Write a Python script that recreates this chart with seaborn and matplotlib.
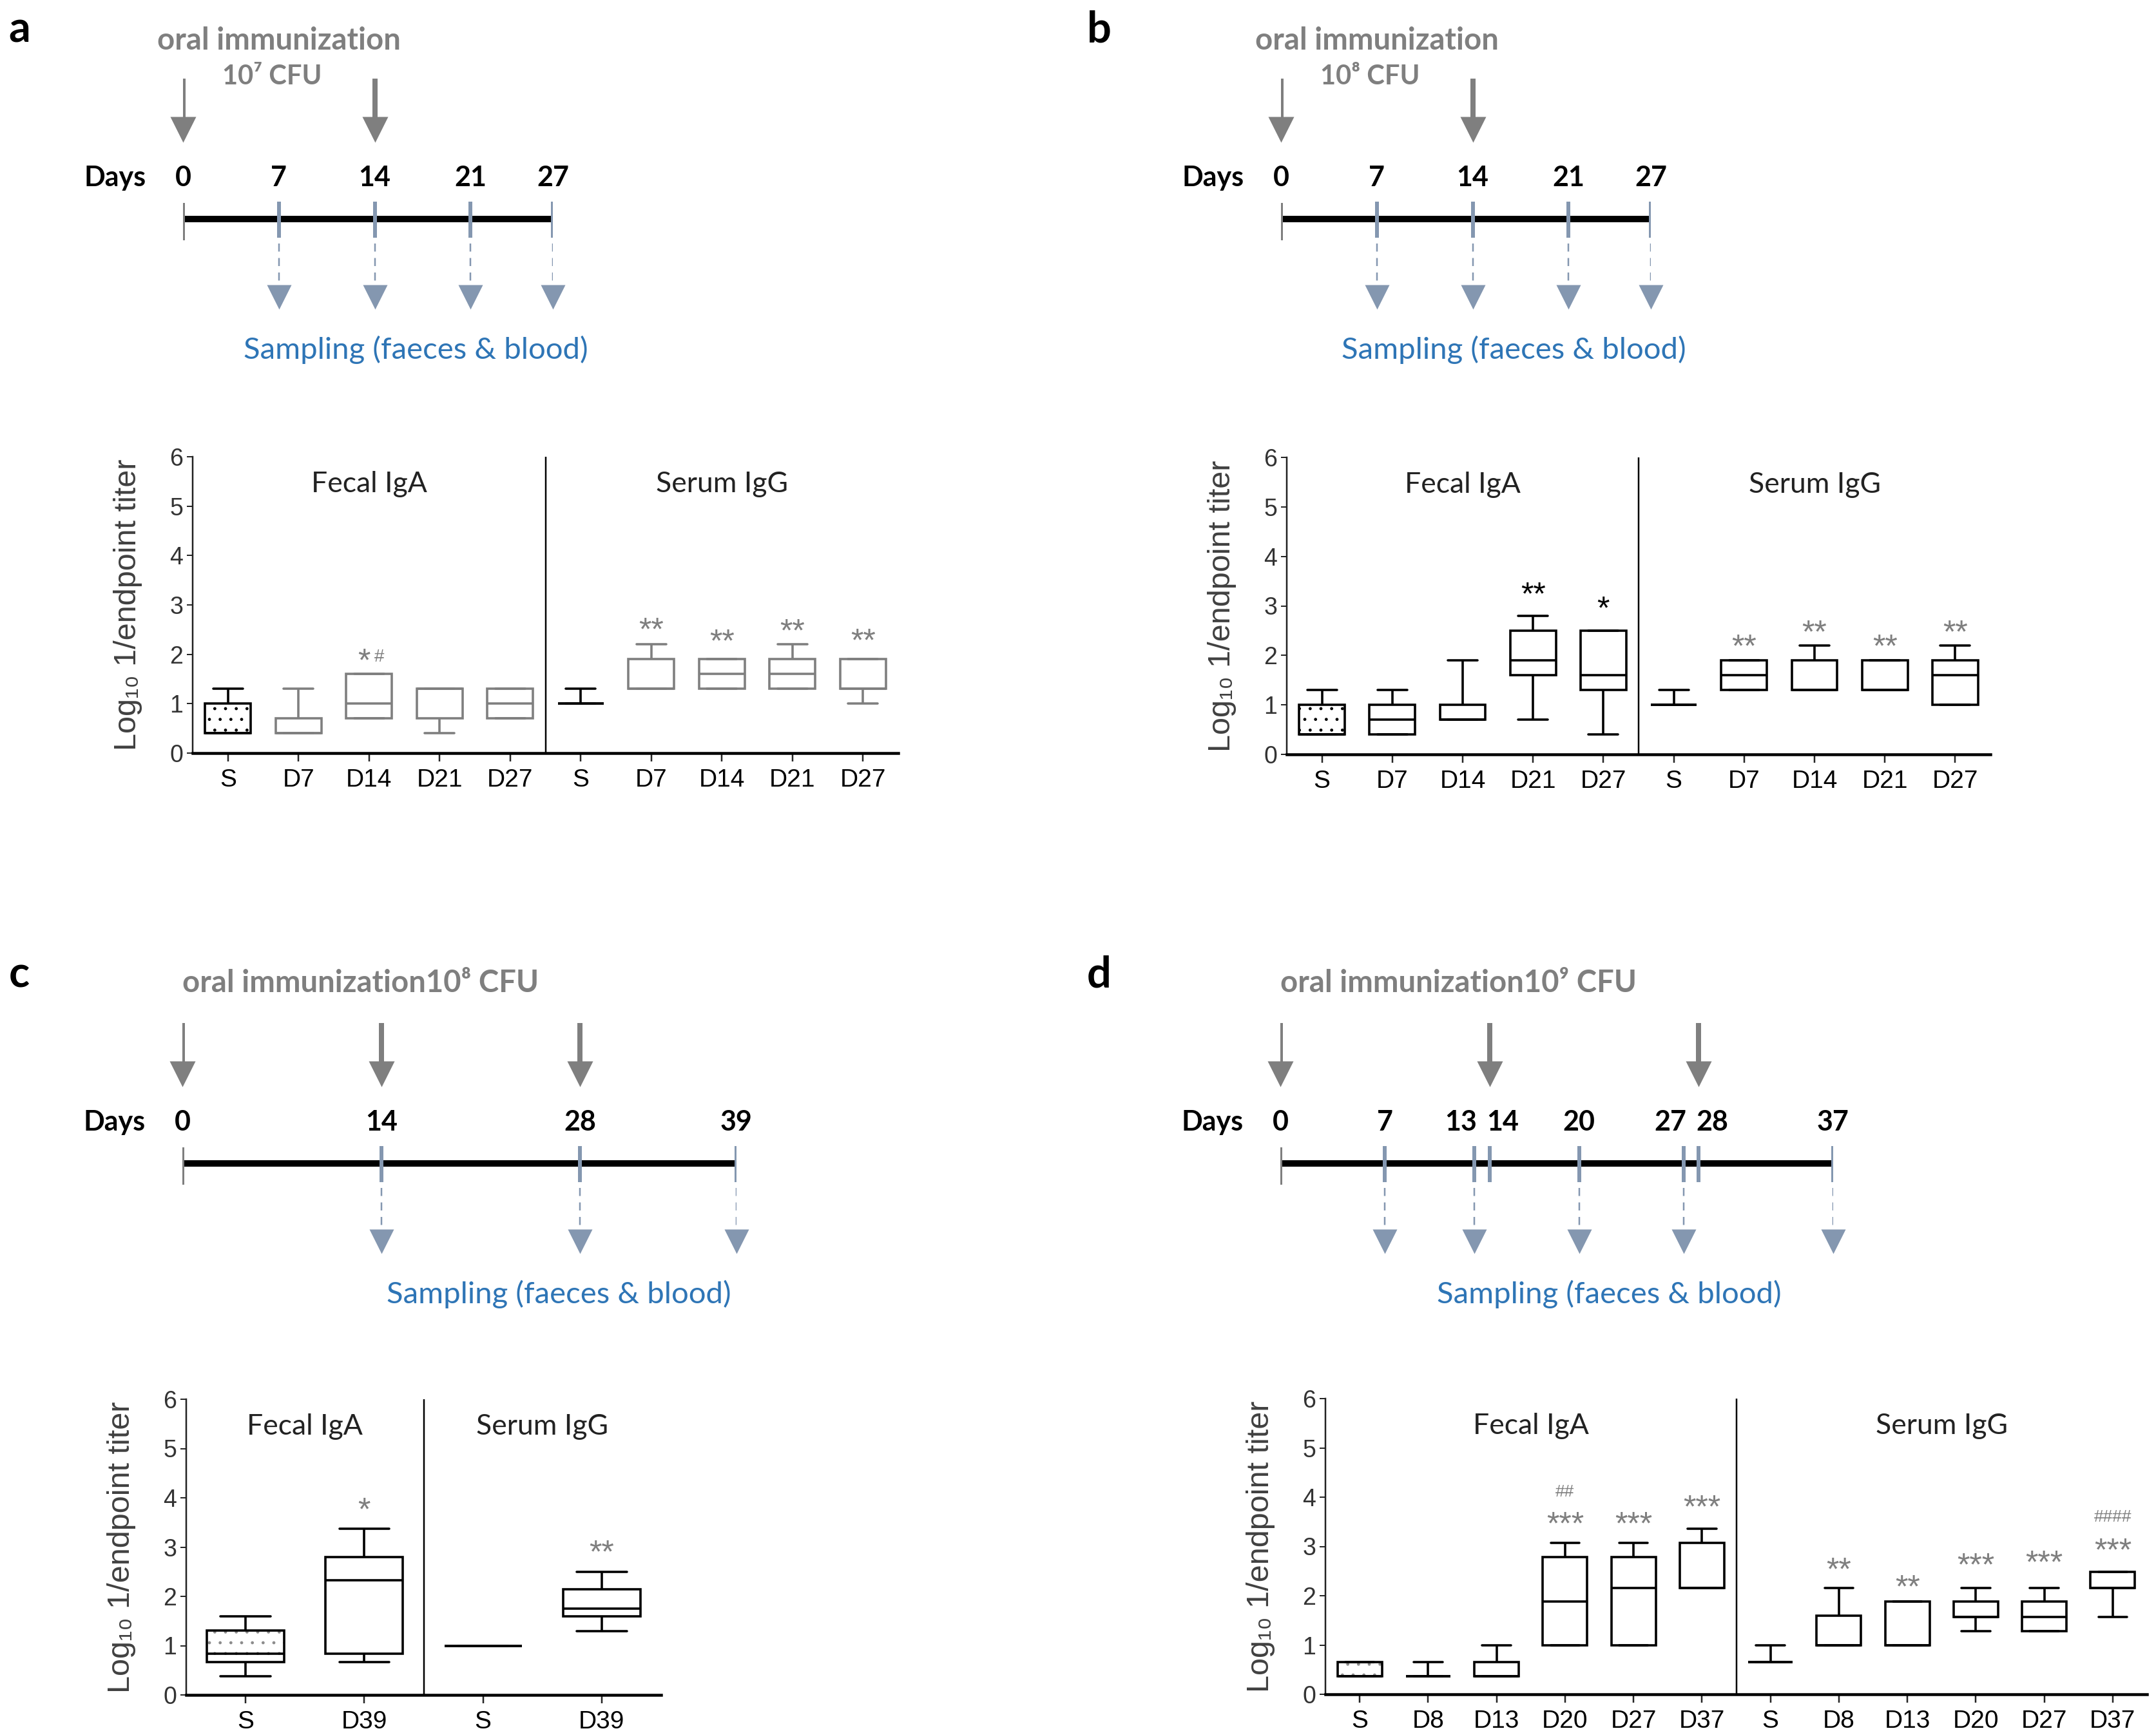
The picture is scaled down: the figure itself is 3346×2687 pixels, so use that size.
import matplotlib
matplotlib.use("Agg")
import matplotlib.pyplot as plt
import matplotlib.transforms as mtransforms
import numpy as np
import pandas as pd
import seaborn as sns

# Plain white theme, fonts set after the theme
sns.set_theme(style="white")
plt.rcParams["font.family"] = ["Lato", "DejaVu Sans"]
plt.rcParams["hatch.linewidth"] = 1.0

NARROW = ["Liberation Sans Narrow", "Liberation Sans", "DejaVu Sans"]
ARIAL = ["Liberation Sans", "DejaVu Sans"]
GREY = "#7f7f7f"
BLUE_GREY = "#8497b0"
BLUE = "#2e75b6"

# ---------------- schedules (days) ----------------
immun_days_a = [0, 14]
sample_days_a = [7, 14, 21, 27]
immun_days_b = [0, 14]
sample_days_b = [7, 14, 21, 27]
immun_days_c = [0, 14, 28]
sample_days_c = [14, 28, 39]
immun_days_d = [0, 14, 28]
sample_days_d = [7, 13, 20, 27, 37]

dose_a = "10⁷ CFU"
dose_b = "10⁸ CFU"
dose_c = "10⁸ CFU"
dose_d = "10⁹ CFU"

# ---------------- titers: [min, q1, median, q3, max] ----------------
labels_ab = ["S", "D7", "D14", "D21", "D27"]
labels_c = ["S", "D39"]
labels_d = ["S", "D8", "D13", "D20", "D27", "D37"]

iga_a = [[0.4, 0.4, 0.4, 1.0, 1.3],
         [0.4, 0.4, 0.4, 0.7, 1.3],
         [0.7, 0.7, 1.0, 1.6, 1.6],
         [0.4, 0.7, 1.3, 1.3, 1.3],
         [0.7, 0.7, 1.0, 1.3, 1.3]]
igg_a = [[1.0, 1.0, 1.0, 1.0, 1.3],
         [1.3, 1.3, 1.3, 1.9, 2.2],
         [1.3, 1.3, 1.6, 1.9, 1.9],
         [1.3, 1.3, 1.6, 1.9, 2.2],
         [1.0, 1.3, 1.3, 1.9, 1.9]]

iga_b = [[0.4, 0.4, 0.4, 1.0, 1.3],
         [0.4, 0.4, 0.7, 1.0, 1.3],
         [0.7, 0.7, 0.7, 1.0, 1.9],
         [0.7, 1.6, 1.9, 2.5, 2.8],
         [0.4, 1.3, 1.6, 2.5, 2.5]]
igg_b = [[1.0, 1.0, 1.0, 1.0, 1.3],
         [1.3, 1.3, 1.6, 1.9, 1.9],
         [1.3, 1.3, 1.3, 1.9, 2.2],
         [1.3, 1.3, 1.3, 1.9, 1.9],
         [1.0, 1.0, 1.6, 1.9, 2.2]]

iga_c = [[0.38, 0.67, 0.84, 1.31, 1.59],
         [0.67, 0.84, 2.33, 2.8, 3.37]]
igg_c = [[1.0, 1.0, 1.0, 1.0, 1.0],
         [1.3, 1.59, 1.75, 2.14, 2.5]]

iga_d = [[0.36, 0.36, 0.36, 0.65, 0.65],
         [0.36, 0.36, 0.36, 0.36, 0.65],
         [0.36, 0.36, 0.36, 0.65, 0.99],
         [0.99, 0.99, 1.88, 2.79, 3.07],
         [0.99, 0.99, 2.16, 2.79, 3.07],
         [2.16, 2.16, 2.16, 3.07, 3.36]]
igg_d = [[0.65, 0.65, 0.65, 0.65, 0.99],
         [0.99, 0.99, 0.99, 1.59, 2.16],
         [0.99, 0.99, 0.99, 1.88, 1.88],
         [1.28, 1.57, 1.57, 1.88, 2.16],
         [1.28, 1.28, 1.57, 1.88, 2.16],
         [1.57, 2.16, 2.16, 2.49, 2.49]]

# significance marks: (antibody, time point, text, height)
marks_a = [("IgA", "D14", "*#", 2.05),
           ("IgG", "D7", "**", 2.67), ("IgG", "D14", "**", 2.44),
           ("IgG", "D21", "**", 2.65), ("IgG", "D27", "**", 2.46)]
marks_b = [("IgA", "D21", "**", 3.41), ("IgA", "D27", "*", 3.13),
           ("IgG", "D7", "**", 2.36), ("IgG", "D14", "**", 2.64),
           ("IgG", "D21", "**", 2.36), ("IgG", "D27", "**", 2.64)]
marks_c = [("IgA", "D39", "*", 3.93), ("IgG", "D39", "**", 3.07)]
marks_d = [("IgA", "D20", "##", 4.13), ("IgA", "D20", "***", 3.64),
           ("IgA", "D27", "***", 3.64), ("IgA", "D37", "***", 3.98),
           ("IgG", "D8", "**", 2.71), ("IgG", "D13", "**", 2.36),
           ("IgG", "D20", "***", 2.8), ("IgG", "D27", "***", 2.85),
           ("IgG", "D37", "####", 3.62), ("IgG", "D37", "***", 3.1)]

# ---------------- figure ----------------
W, H = 3346, 2687
fig = plt.figure(figsize=(W / 100, H / 100), dpi=100)
fig.patch.set_facecolor("white")


def px_rect(left, top, right, bottom):
    return [left / W, 1 - bottom / H, (right - left) / W, (bottom - top) / H]


def pt(px):
    return px * 0.72


def draw_schedule(x0, x1, top, immun_days, sample_days, dose, one_line):
    last = max(immun_days + sample_days)
    ax = fig.add_axes(px_rect(x0, top, x1, top + 600))
    ax.set_xlim(0, last)
    ax.set_ylim(600, 0)
    ax.axis("off")
    days = sorted(set(immun_days) | set(sample_days))

    # main time line and day ticks
    ax.plot([0, last], [340, 340], color="black", lw=pt(10), solid_capstyle="butt",
            clip_on=False, zorder=2)
    ax.vlines([0], 315, 373, color=GREY, lw=pt(6), zorder=3)
    ax.vlines([d for d in days if d != 0], 313, 369, color=BLUE_GREY, lw=pt(6), zorder=3)

    # day labels, nudged apart when two days are adjacent
    for i, d in enumerate(days):
        ha, dx = "center", 0
        if i + 1 < len(days) and days[i + 1] - d <= 1:
            ha, dx = "right", 4
        elif i > 0 and d - days[i - 1] <= 1:
            ha, dx = "left", -4
        tr = mtransforms.offset_copy(ax.transData, fig=fig, x=dx, y=0, units="dots")
        ax.text(d, 276, str(d), transform=tr, ha=ha, va="center", fontsize=31,
                fontweight="bold", color="black")
    tr = mtransforms.offset_copy(ax.transData, fig=fig, x=-105, y=0, units="dots")
    ax.text(0, 276, "Days", transform=tr, ha="center", va="center", fontsize=31,
            fontweight="bold", color="black")

    # oral immunization arrows
    ax.vlines(immun_days, 122, 186, color=GREY, lw=pt(8))
    ax.scatter(immun_days, [201] * len(immun_days), marker="v", s=pt(40) ** 2,
               color=GREY, linewidths=0, clip_on=False)
    if one_line:
        ax.text(0, 60, "oral immunization" + dose, ha="left", va="center", fontsize=34,
                fontweight="bold", color=GREY)
    else:
        mid = (immun_days[0] + immun_days[1]) / 2
        ax.text(mid, 63, "oral immunization", ha="center", va="center", fontsize=34,
                fontweight="bold", color=GREY)
        ax.text(mid - 0.5, 119, dose, ha="center", va="center", fontsize=30,
                fontweight="bold", color=GREY)

    # sampling arrows
    ax.vlines(sample_days, 378, 444, color=BLUE_GREY, lw=pt(2.5),
              linestyles=(0, (5, 4)))
    ax.scatter(sample_days, [461] * len(sample_days), marker="v", s=pt(38) ** 2,
               color=BLUE_GREY, linewidths=0, clip_on=False)
    ax.text((sample_days[0] + sample_days[-1]) / 2, 543, "Sampling (faeces & blood)",
            ha="center", va="center", fontsize=34, color=BLUE)
    return ax


def build_frame(labels, iga, igg):
    rows = []
    for grp, summaries in (("IgA", iga), ("IgG", igg)):
        for lab, vals in zip(labels, summaries):
            for v in vals:
                rows.append({"group": f"{grp} {lab}", "titer": v})
    return pd.DataFrame(rows)


def star_text(ax, x, y, txt, size, color):
    # asterisks sit high in the em box, pull them down so their centre lands on y
    shift = -0.33 * size * 100 / 72 if "*" in txt else -0.08 * size * 100 / 72
    tr = mtransforms.offset_copy(ax.transData, fig=fig, x=0, y=shift, units="dots")
    ax.text(x, y, txt, transform=tr, ha="center", va="center", fontsize=size,
            family=ARIAL, color=color)


def draw_box_panel(rect, labels, iga, igg, marks, muted=False, mark_colors=None,
                   dot_color="black"):
    ax = fig.add_axes(px_rect(*rect))
    n = len(labels)
    order = [f"IgA {l}" for l in labels] + [f"IgG {l}" for l in labels]
    df = build_frame(labels, iga, igg)
    sns.boxplot(data=df, x="group", y="titer", order=order, ax=ax, whis=(0, 100),
                width=0.65, color="white", linecolor="black", linewidth=pt(3.6),
                fliersize=0)
    bc = ax.containers[0]

    # caps a bit shorter than the boxes
    for cap in bc.caps:
        xs = cap.get_xdata()
        c = np.mean(xs)
        cap.set_xdata([c - 0.21, c + 0.21])

    # dotted fill for the fecal control box
    bc.boxes[0].set_hatch(".")
    bc.boxes[0]._hatch_color = matplotlib.colors.to_rgba(dot_color)

    # panel a draws all immunized groups in grey
    if muted:
        for i in range(2 * n):
            if i in (0, n):
                continue
            bc.boxes[i].set_edgecolor(GREY)
            bc.medians[i].set_color(GREY)
            for ln in bc.whiskers[2 * i:2 * i + 2] + bc.caps[2 * i:2 * i + 2]:
                ln.set_color(GREY)

    ax.set_xlim(-0.5, 2 * n - 0.5)
    ax.set_ylim(0, 6)
    ax.set_xlabel("")
    ax.set_xticks(range(2 * n), labels * 2, fontsize=28, family=NARROW, color="black")
    ax.set_yticks(range(7), [str(v) for v in range(7)], fontsize=27, family=NARROW,
                  color="#333333")
    ax.tick_params(axis="x", direction="out", length=pt(13), width=pt(2.5), pad=8,
                   bottom=True)
    ax.tick_params(axis="y", direction="out", length=pt(9), width=pt(2), pad=4, left=True)
    for side in ("top", "right"):
        ax.spines[side].set_visible(False)
    ax.spines["left"].set_linewidth(pt(2.5))
    ax.spines["bottom"].set_linewidth(pt(4.5))
    ax.spines["left"].set_color("#222222")
    ax.spines["bottom"].set_color("black")
    ax.axvline(n - 0.5, color="black", lw=pt(2.5))

    ax.set_ylabel("Log₁₀ 1/endpoint titer", fontsize=35, family=ARIAL, color="#404040")
    width_px = rect[2] - rect[0]
    ax.yaxis.set_label_coords(-78 / width_px, 0.5)

    ax.text(n / 2 - 0.5, 5.45, "Fecal IgA", ha="center", va="center", fontsize=32,
            color="#222222")
    ax.text(n + n / 2 - 0.5, 5.45, "Serum IgG", ha="center", va="center", fontsize=32,
            color="#222222")

    for grp, lab, txt, y in marks:
        x = labels.index(lab) + (0 if grp == "IgA" else n)
        color = GREY if mark_colors is None else mark_colors[grp]
        if txt == "*#":
            star_text(ax, x - 0.07, y, "*", 36, color)
            star_text(ax, x + 0.14, y - 0.08, "#", 20, color)
        elif "#" in txt:
            star_text(ax, x, y, txt, 19, color)
        else:
            star_text(ax, x, y, txt, 36, color)
    return ax


# panel letters
for letter, (x, y) in zip("abcd", [(30, 47), (1706, 47), (30, 1513), (1706, 1513)]):
    fig.text(x / W, 1 - y / H, letter, ha="center", va="center", fontsize=48,
             fontweight="bold", color="black")

# schedules
draw_schedule(284, 858, 0, immun_days_a, sample_days_a, dose_a, one_line=False)
draw_schedule(1988, 2562, 0, immun_days_b, sample_days_b, dose_b, one_line=False)
draw_schedule(283, 1143, 1466, immun_days_c, sample_days_c, dose_c, one_line=True)
draw_schedule(1987, 2845, 1466, immun_days_d, sample_days_d, dose_d, one_line=True)

# antibody titers
draw_box_panel((299, 709, 1394, 1169), labels_ab, iga_a, igg_a, marks_a, muted=True)
draw_box_panel((1997, 710, 3089, 1171), labels_ab, iga_b, igg_b, marks_b,
               mark_colors={"IgA": "black", "IgG": GREY})
draw_box_panel((289, 2172, 1026, 2631), labels_c, iga_c, igg_c, marks_c,
               dot_color="#8c8c8c")
draw_box_panel((2057, 2171, 3332, 2630), labels_d, iga_d, igg_d, marks_d,
               dot_color="#8c8c8c")

fig.savefig("out.png", dpi=100, facecolor="white")
